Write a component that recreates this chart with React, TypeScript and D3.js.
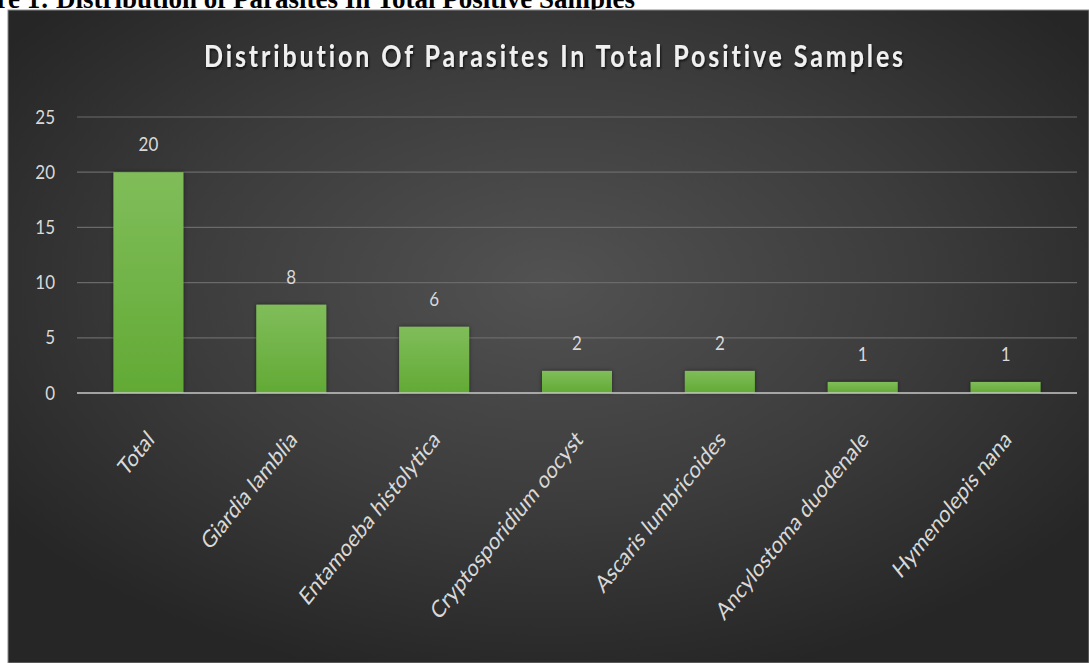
import React from "react";
import * as d3 from "d3";

const categories = [
  "Total",
  "Giardia lamblia",
  "Entamoeba histolytica",
  "Cryptosporidium oocyst",
  "Ascaris lumbricoides",
  "Ancylostoma duodenale",
  "Hymenolepis nana",
];
const values = [20, 8, 6, 2, 2, 1, 1];
const yTicks = [0, 5, 10, 15, 20, 25];
const chartTitle = "Distribution Of Parasites In Total Positive Samples";
const caption = "Figure 1: Distribution of Parasites In Total Positive Samples";

const W = 1089;
const H = 663;
const plotLeft = 77;
const plotRight = 1077;
const yZero = 393;
const yTop = 117;

export default function App() {
  const x = d3
    .scaleBand<string>()
    .domain(categories)
    .range([plotLeft, plotRight])
    .paddingInner(0.51)
    .paddingOuter(0.255);
  const y = d3.scaleLinear().domain([0, 25]).range([yZero, yTop]);
  const font = "Lato, 'Open Sans', sans-serif";

  return (
    <svg
      width={W}
      height={H}
      style={{ position: "absolute", left: 0, top: 0, display: "block" }}
    >
      <defs>
        <radialGradient id="bg" cx="0.5" cy="0.42" r="0.62" gradientUnits="objectBoundingBox">
          <stop offset="0" stopColor="#525252" />
          <stop offset="0.55" stopColor="#3c3c3c" />
          <stop offset="1" stopColor="#262626" />
        </radialGradient>
        <linearGradient id="bar" x1="0" y1="0" x2="0" y2="1">
          <stop offset="0" stopColor="#80bd5a" />
          <stop offset="1" stopColor="#62aa35" />
        </linearGradient>
        <filter id="tshadow" x="-5%" y="-30%" width="110%" height="160%">
          <feDropShadow dx="1" dy="1.5" stdDeviation="1" floodColor="#000" floodOpacity="0.7" />
        </filter>
        <filter id="bshadow" x="-20%" y="-20%" width="140%" height="140%">
          <feDropShadow dx="0" dy="0" stdDeviation="2" floodColor="#000" floodOpacity="0.5" />
        </filter>
      </defs>
      <rect x={0} y={0} width={W} height={H} fill="#ffffff" />
      <text
        x={635}
        y={8}
        textAnchor="end"
        fontFamily="'Liberation Serif', 'Times New Roman', serif"
        fontWeight="bold"
        fontSize={27}
        fill="#000"
      >
        {caption}
      </text>
      <rect x={8} y={10} width={W - 8} height={H - 10} fill="url(#bg)" stroke="#8a8a8a" strokeWidth={1} />
      <text
        transform="translate(555,67) scale(1,1.2)"
        textAnchor="middle"
        fontFamily={font}
        fontWeight="bold"
        fontSize={25}
        letterSpacing={2.9}
        fill="#f0f0f0"
        filter="url(#tshadow)"
      >
        {chartTitle}
      </text>
      {yTicks.map((t) => (
        <g key={t}>
          {t !== 0 && (
            <line x1={plotLeft} x2={plotRight} y1={y(t)} y2={y(t)} stroke="#6a6a6a" strokeWidth={1.2} />
          )}
          <text
            transform={`translate(55,${y(t)}) scale(1,1.12)`}
            dy="0.35em"
            textAnchor="end"
            fontFamily={font}
            fontSize={17}
            fill="#d9d9d9"
          >
            {t}
          </text>
        </g>
      ))}
      {categories.map((c, i) => {
        const bx = x(c)!;
        const bw = x.bandwidth();
        const cx = bx + bw / 2;
        return (
          <g key={c}>
            <rect
              x={bx}
              y={y(values[i])}
              width={bw}
              height={yZero - y(values[i])}
              fill="url(#bar)"
              filter="url(#bshadow)"
            />
            <text
              transform={`translate(${cx},${y(values[i]) - 21}) scale(1,1.12)`}
              textAnchor="middle"
              fontFamily={font}
              fontSize={17}
              fill="#d9d9d9"
            >
              {values[i]}
            </text>
            <text
              transform={`translate(${cx + 7},${yZero + 48}) scale(1,1.24) rotate(-45)`}
              textAnchor="end"
              fontFamily={font}
              fontSize={19.5}
              fill="#d9d9d9"
            >
              {c}
            </text>
          </g>
        );
      })}
      <line x1={plotLeft} x2={plotRight} y1={yZero} y2={yZero} stroke="#c8c8c8" strokeWidth={1.5} />
    </svg>
  );
}
